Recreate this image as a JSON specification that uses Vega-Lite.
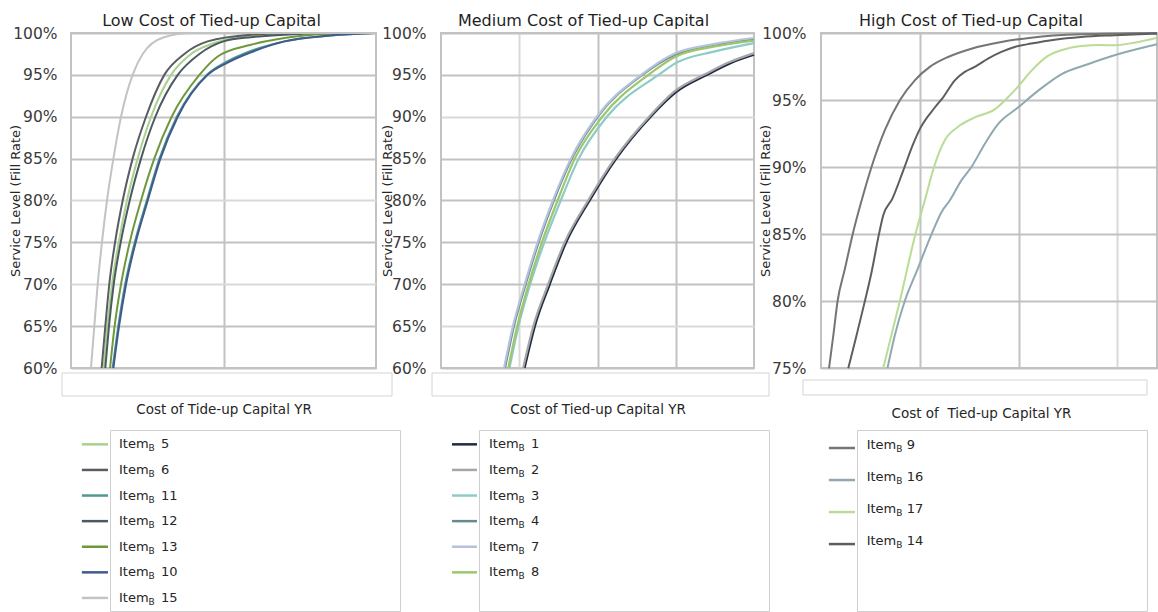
{
  "$schema": "https://vega.github.io/schema/vega-lite/v6.json",
  "background": "white",
  "padding": {"left": 8, "top": 12, "right": 0, "bottom": 0},
  "config": {
    "font": "DejaVu Sans",
    "view": {"stroke": "#c2c2c2", "strokeWidth": 2},
    "axis": {"gridColor": "#c2c2c2", "gridWidth": 2, "titleFontWeight": "normal", "titleColor": "#262626", "labelColor": "#3a3a3a"},
    "title": {"fontWeight": "normal", "color": "#1f1f1f"}
  },
  "datasets": {
    "p1": [
      {"item": "5", "cost": 0.214, "fill": 0.6}, {"item": "5", "cost": 0.238, "fill": 0.65}, {"item": "5", "cost": 0.269, "fill": 0.7}, {"item": "5", "cost": 0.313, "fill": 0.75}, {"item": "5", "cost": 0.367, "fill": 0.8}, {"item": "5", "cost": 0.437, "fill": 0.85}, {"item": "5", "cost": 0.525, "fill": 0.9}, {"item": "5", "cost": 0.656, "fill": 0.95}, {"item": "5", "cost": 0.787, "fill": 0.975}, {"item": "5", "cost": 0.94, "fill": 0.988}, {"item": "5", "cost": 1.18, "fill": 0.997}, {"item": "5", "cost": 1.6, "fill": 1.0}, {"item": "5", "cost": 2.0, "fill": 1.0},
      {"item": "6", "cost": 0.201, "fill": 0.6}, {"item": "6", "cost": 0.225, "fill": 0.65}, {"item": "6", "cost": 0.251, "fill": 0.7}, {"item": "6", "cost": 0.289, "fill": 0.75}, {"item": "6", "cost": 0.339, "fill": 0.8}, {"item": "6", "cost": 0.404, "fill": 0.85}, {"item": "6", "cost": 0.492, "fill": 0.9}, {"item": "6", "cost": 0.612, "fill": 0.95}, {"item": "6", "cost": 0.743, "fill": 0.975}, {"item": "6", "cost": 0.896, "fill": 0.99}, {"item": "6", "cost": 1.18, "fill": 0.998}, {"item": "6", "cost": 1.5, "fill": 1.0}, {"item": "6", "cost": 2.0, "fill": 1.0},
      {"item": "11", "cost": 0.273, "fill": 0.6}, {"item": "11", "cost": 0.31, "fill": 0.65}, {"item": "11", "cost": 0.355, "fill": 0.7}, {"item": "11", "cost": 0.418, "fill": 0.75}, {"item": "11", "cost": 0.497, "fill": 0.8}, {"item": "11", "cost": 0.58, "fill": 0.85}, {"item": "11", "cost": 0.694, "fill": 0.9}, {"item": "11", "cost": 0.89, "fill": 0.95}, {"item": "11", "cost": 1.024, "fill": 0.966}, {"item": "11", "cost": 1.17, "fill": 0.978}, {"item": "11", "cost": 1.4, "fill": 0.99}, {"item": "11", "cost": 1.7, "fill": 0.997}, {"item": "11", "cost": 2.0, "fill": 1.0},
      {"item": "12", "cost": 0.225, "fill": 0.6}, {"item": "12", "cost": 0.249, "fill": 0.65}, {"item": "12", "cost": 0.28, "fill": 0.7}, {"item": "12", "cost": 0.326, "fill": 0.75}, {"item": "12", "cost": 0.385, "fill": 0.8}, {"item": "12", "cost": 0.459, "fill": 0.85}, {"item": "12", "cost": 0.553, "fill": 0.9}, {"item": "12", "cost": 0.7, "fill": 0.95}, {"item": "12", "cost": 0.842, "fill": 0.975}, {"item": "12", "cost": 1.0, "fill": 0.99}, {"item": "12", "cost": 1.18, "fill": 0.995}, {"item": "12", "cost": 1.4, "fill": 0.998}, {"item": "12", "cost": 1.7, "fill": 1.0}, {"item": "12", "cost": 2.0, "fill": 1.0},
      {"item": "13", "cost": 0.256, "fill": 0.6}, {"item": "13", "cost": 0.286, "fill": 0.65}, {"item": "13", "cost": 0.328, "fill": 0.7}, {"item": "13", "cost": 0.385, "fill": 0.75}, {"item": "13", "cost": 0.459, "fill": 0.8}, {"item": "13", "cost": 0.546, "fill": 0.85}, {"item": "13", "cost": 0.66, "fill": 0.9}, {"item": "13", "cost": 0.842, "fill": 0.95}, {"item": "13", "cost": 0.962, "fill": 0.972}, {"item": "13", "cost": 1.18, "fill": 0.986}, {"item": "13", "cost": 1.4, "fill": 0.994}, {"item": "13", "cost": 1.7, "fill": 0.999}, {"item": "13", "cost": 2.0, "fill": 1.0},
      {"item": "10", "cost": 0.278, "fill": 0.6}, {"item": "10", "cost": 0.315, "fill": 0.65}, {"item": "10", "cost": 0.361, "fill": 0.7}, {"item": "10", "cost": 0.424, "fill": 0.75}, {"item": "10", "cost": 0.503, "fill": 0.8}, {"item": "10", "cost": 0.586, "fill": 0.85}, {"item": "10", "cost": 0.7, "fill": 0.9}, {"item": "10", "cost": 0.896, "fill": 0.95}, {"item": "10", "cost": 1.03, "fill": 0.965}, {"item": "10", "cost": 1.18, "fill": 0.977}, {"item": "10", "cost": 1.4, "fill": 0.99}, {"item": "10", "cost": 1.7, "fill": 0.997}, {"item": "10", "cost": 2.0, "fill": 1.0},
      {"item": "15", "cost": 0.131, "fill": 0.6}, {"item": "15", "cost": 0.153, "fill": 0.65}, {"item": "15", "cost": 0.175, "fill": 0.7}, {"item": "15", "cost": 0.203, "fill": 0.75}, {"item": "15", "cost": 0.236, "fill": 0.8}, {"item": "15", "cost": 0.278, "fill": 0.85}, {"item": "15", "cost": 0.328, "fill": 0.9}, {"item": "15", "cost": 0.404, "fill": 0.95}, {"item": "15", "cost": 0.47, "fill": 0.975}, {"item": "15", "cost": 0.61, "fill": 0.995}, {"item": "15", "cost": 0.79, "fill": 1.0}, {"item": "15", "cost": 2.0, "fill": 1.0}
    ],
    "p2": [
      {"item": "1", "cost": 1.068, "fill": 0.6}, {"item": "1", "cost": 1.2, "fill": 0.65}, {"item": "1", "cost": 1.39, "fill": 0.7}, {"item": "1", "cost": 1.6, "fill": 0.75}, {"item": "1", "cost": 1.9, "fill": 0.8}, {"item": "1", "cost": 2.24, "fill": 0.85}, {"item": "1", "cost": 2.68, "fill": 0.9}, {"item": "1", "cost": 3.0, "fill": 0.929}, {"item": "1", "cost": 3.4, "fill": 0.95}, {"item": "1", "cost": 3.7, "fill": 0.964}, {"item": "1", "cost": 4.0, "fill": 0.974},
      {"item": "2", "cost": 1.05, "fill": 0.6}, {"item": "2", "cost": 1.18, "fill": 0.65}, {"item": "2", "cost": 1.37, "fill": 0.7}, {"item": "2", "cost": 1.58, "fill": 0.75}, {"item": "2", "cost": 1.88, "fill": 0.8}, {"item": "2", "cost": 2.22, "fill": 0.85}, {"item": "2", "cost": 2.66, "fill": 0.9}, {"item": "2", "cost": 2.98, "fill": 0.93}, {"item": "2", "cost": 3.38, "fill": 0.951}, {"item": "2", "cost": 3.68, "fill": 0.965}, {"item": "2", "cost": 4.0, "fill": 0.976},
      {"item": "3", "cost": 0.875, "fill": 0.6}, {"item": "3", "cost": 0.99, "fill": 0.65}, {"item": "3", "cost": 1.14, "fill": 0.7}, {"item": "3", "cost": 1.32, "fill": 0.75}, {"item": "3", "cost": 1.53, "fill": 0.8}, {"item": "3", "cost": 1.76, "fill": 0.85}, {"item": "3", "cost": 2.12, "fill": 0.9}, {"item": "3", "cost": 2.78, "fill": 0.95}, {"item": "3", "cost": 3.0, "fill": 0.964}, {"item": "3", "cost": 3.5, "fill": 0.978}, {"item": "3", "cost": 4.0, "fill": 0.988},
      {"item": "4", "cost": 0.818, "fill": 0.6}, {"item": "4", "cost": 0.932, "fill": 0.65}, {"item": "4", "cost": 1.082, "fill": 0.7}, {"item": "4", "cost": 1.247, "fill": 0.75}, {"item": "4", "cost": 1.442, "fill": 0.8}, {"item": "4", "cost": 1.672, "fill": 0.85}, {"item": "4", "cost": 2.002, "fill": 0.9}, {"item": "4", "cost": 2.572, "fill": 0.95}, {"item": "4", "cost": 3.012, "fill": 0.975}, {"item": "4", "cost": 3.512, "fill": 0.986}, {"item": "4", "cost": 4.0, "fill": 0.993},
      {"item": "7", "cost": 0.806, "fill": 0.6}, {"item": "7", "cost": 0.92, "fill": 0.65}, {"item": "7", "cost": 1.07, "fill": 0.7}, {"item": "7", "cost": 1.235, "fill": 0.75}, {"item": "7", "cost": 1.43, "fill": 0.8}, {"item": "7", "cost": 1.66, "fill": 0.85}, {"item": "7", "cost": 1.99, "fill": 0.9}, {"item": "7", "cost": 2.56, "fill": 0.95}, {"item": "7", "cost": 3.0, "fill": 0.976}, {"item": "7", "cost": 3.5, "fill": 0.987}, {"item": "7", "cost": 4.0, "fill": 0.994},
      {"item": "8", "cost": 0.86, "fill": 0.6}, {"item": "8", "cost": 0.975, "fill": 0.65}, {"item": "8", "cost": 1.12, "fill": 0.7}, {"item": "8", "cost": 1.29, "fill": 0.75}, {"item": "8", "cost": 1.49, "fill": 0.8}, {"item": "8", "cost": 1.71, "fill": 0.85}, {"item": "8", "cost": 2.06, "fill": 0.9}, {"item": "8", "cost": 2.65, "fill": 0.95}, {"item": "8", "cost": 3.0, "fill": 0.972}, {"item": "8", "cost": 3.5, "fill": 0.984}, {"item": "8", "cost": 4.0, "fill": 0.991}
    ],
    "p3": [
      {"item": "9", "cost": 0.081, "fill": 0.7498}, {"item": "9", "cost": 0.125, "fill": 0.7745}, {"item": "9", "cost": 0.168, "fill": 0.8}, {"item": "9", "cost": 0.242, "fill": 0.824}, {"item": "9", "cost": 0.32, "fill": 0.8497}, {"item": "9", "cost": 0.411, "fill": 0.875}, {"item": "9", "cost": 0.512, "fill": 0.9002}, {"item": "9", "cost": 0.646, "fill": 0.9275}, {"item": "9", "cost": 0.798, "fill": 0.9498}, {"item": "9", "cost": 0.949, "fill": 0.9647}, {"item": "9", "cost": 1.101, "fill": 0.9747}, {"item": "9", "cost": 1.286, "fill": 0.9821}, {"item": "9", "cost": 1.522, "fill": 0.9883}, {"item": "9", "cost": 1.825, "fill": 0.9933}, {"item": "9", "cost": 2.128, "fill": 0.9965}, {"item": "9", "cost": 2.633, "fill": 0.999}, {"item": "9", "cost": 3.4, "fill": 1.0},
      {"item": "16", "cost": 0.673, "fill": 0.75}, {"item": "16", "cost": 0.747, "fill": 0.7745}, {"item": "16", "cost": 0.848, "fill": 0.8}, {"item": "16", "cost": 0.966, "fill": 0.8217}, {"item": "16", "cost": 1.118, "fill": 0.8497}, {"item": "16", "cost": 1.219, "fill": 0.8663}, {"item": "16", "cost": 1.303, "fill": 0.875}, {"item": "16", "cost": 1.421, "fill": 0.89}, {"item": "16", "cost": 1.522, "fill": 0.9}, {"item": "16", "cost": 1.657, "fill": 0.9172}, {"item": "16", "cost": 1.791, "fill": 0.932}, {"item": "16", "cost": 1.993, "fill": 0.9444}, {"item": "16", "cost": 2.195, "fill": 0.9568}, {"item": "16", "cost": 2.431, "fill": 0.9692}, {"item": "16", "cost": 2.7, "fill": 0.9767}, {"item": "16", "cost": 3.003, "fill": 0.9841}, {"item": "16", "cost": 3.4, "fill": 0.9916},
      {"item": "17", "cost": 0.63, "fill": 0.75}, {"item": "17", "cost": 0.798, "fill": 0.8}, {"item": "17", "cost": 0.956, "fill": 0.85}, {"item": "17", "cost": 1.05, "fill": 0.875}, {"item": "17", "cost": 1.152, "fill": 0.902}, {"item": "17", "cost": 1.253, "fill": 0.92}, {"item": "17", "cost": 1.387, "fill": 0.93}, {"item": "17", "cost": 1.556, "fill": 0.937}, {"item": "17", "cost": 1.758, "fill": 0.943}, {"item": "17", "cost": 1.892, "fill": 0.952}, {"item": "17", "cost": 2.0, "fill": 0.9606}, {"item": "17", "cost": 2.128, "fill": 0.9717}, {"item": "17", "cost": 2.296, "fill": 0.9829}, {"item": "17", "cost": 2.465, "fill": 0.9879}, {"item": "17", "cost": 2.633, "fill": 0.9903}, {"item": "17", "cost": 2.835, "fill": 0.9911}, {"item": "17", "cost": 2.97, "fill": 0.9908}, {"item": "17", "cost": 3.17, "fill": 0.9928}, {"item": "17", "cost": 3.4, "fill": 0.9965},
      {"item": "14", "cost": 0.276, "fill": 0.7498}, {"item": "14", "cost": 0.36, "fill": 0.7745}, {"item": "14", "cost": 0.444, "fill": 0.7999}, {"item": "14", "cost": 0.512, "fill": 0.8217}, {"item": "14", "cost": 0.586, "fill": 0.8497}, {"item": "14", "cost": 0.63, "fill": 0.864}, {"item": "14", "cost": 0.72, "fill": 0.876}, {"item": "14", "cost": 0.832, "fill": 0.8973}, {"item": "14", "cost": 0.933, "fill": 0.9172}, {"item": "14", "cost": 1.005, "fill": 0.929}, {"item": "14", "cost": 1.152, "fill": 0.9444}, {"item": "14", "cost": 1.236, "fill": 0.952}, {"item": "14", "cost": 1.354, "fill": 0.9647}, {"item": "14", "cost": 1.455, "fill": 0.971}, {"item": "14", "cost": 1.556, "fill": 0.9747}, {"item": "14", "cost": 1.69, "fill": 0.9809}, {"item": "14", "cost": 1.825, "fill": 0.9859}, {"item": "14", "cost": 1.96, "fill": 0.9896}, {"item": "14", "cost": 2.128, "fill": 0.9921}, {"item": "14", "cost": 2.364, "fill": 0.995}, {"item": "14", "cost": 2.633, "fill": 0.997}, {"item": "14", "cost": 2.97, "fill": 0.9983}, {"item": "14", "cost": 3.4, "fill": 0.9995}
    ],
    "leg1": [
      {"item": "5", "rank": 1}, {"item": "6", "rank": 2}, {"item": "11", "rank": 3}, {"item": "12", "rank": 4}, {"item": "13", "rank": 5}, {"item": "10", "rank": 6}, {"item": "15", "rank": 7}
    ],
    "leg2": [
      {"item": "1", "rank": 1}, {"item": "2", "rank": 2}, {"item": "3", "rank": 3}, {"item": "4", "rank": 4}, {"item": "7", "rank": 5}, {"item": "8", "rank": 6}
    ],
    "leg3": [
      {"item": "9", "rank": 1}, {"item": "16", "rank": 2}, {"item": "17", "rank": 3}, {"item": "14", "rank": 4}
    ]
  },
  "bounds": "full",
  "spacing": 0,
  "vconcat": [
    {
      "bounds": "flush",
      "spacing": 0,
      "hconcat": [
        {"width": 9, "height": 396, "view": {"stroke": null}, "data": {"values": []}, "mark": "rect"},
        {
          "bounds": "flush",
          "spacing": 65,
          "hconcat": [
            {
              "width": 305,
              "height": 335,
              "title": {"text": "Low Cost of Tied-up Capital", "anchor": "middle", "frame": "group", "dx": -12, "offset": -16, "baseline": "alphabetic", "fontSize": 16},
              "encoding": {
                "x": {"type": "quantitative", "scale": {"domain": [0, 2], "nice": false, "zero": false},
                      "axis": {"values": [1], "labels": false, "ticks": false, "domain": false, "title": "Cost of Tide-up Capital YR", "titleFontSize": 13.5, "titlePadding": 34}},
                "y": {"type": "quantitative", "scale": {"domain": [0.6, 1], "nice": false, "zero": false},
                      "axis": {"values": [0.6, 0.65, 0.7, 0.75, 0.8, 0.85, 0.9, 0.95, 1], "format": ".0%", "labelFontSize": 15.5, "labelPadding": 14, "ticks": false, "domain": false,
                               "gridColor": {"condition": {"test": "datum.value == 0.8 || datum.value == 0.7", "value": "#d9d9d9"}, "value": "#c2c2c2"},
                               "title": "Service Level (Fill Rate)", "titleFontSize": 13, "titleX": -56, "titleY": 167.5, "titleAngle": -90, "titleAlign": "center", "titleBaseline": "middle"}}
              },
              "layer": [
                {
                  "data": {"name": "p1"},
                  "mark": {"type": "line", "strokeWidth": 2, "interpolate": "monotone"},
                  "encoding": {
                    "x": {"field": "cost", "type": "quantitative"},
                    "y": {"field": "fill", "type": "quantitative"},
                    "color": {"field": "item", "type": "nominal", "legend": null,
                              "scale": {"domain": ["1","2","3","4","5","6","7","8","9","10","11","12","13","14","15","16","17"],
                                        "range": ["#1f2a44","#a6a6a6","#8ccbc6","#6b8892","#a9d18e","#595d63","#b4c3d9","#9dc76a","#757575","#3f5b8c","#4f9893","#4b5a60","#6f983d","#5e5e5e","#c3c3c3","#8fa8b2","#b9dc96"]}}
                  }
                },
                {
                  "data": {"values": [{}]},
                  "mark": {"type": "rect", "fill": null, "stroke": "#d4d4d4", "strokeWidth": 1},
                  "encoding": {"x": {"datum": -0.059}, "x2": {"datum": 2.105}, "y": {"datum": 0.59403}, "y2": {"datum": 0.56657}}
                }
              ]
            },
            {
              "bounds": "flush",
              "spacing": 67,
              "hconcat": [
                {
                  "width": 313,
                  "height": 335,
                  "title": {"text": "Medium Cost of Tied-up Capital", "anchor": "middle", "frame": "group", "dx": -14, "offset": -16, "baseline": "alphabetic", "fontSize": 16},
                  "encoding": {
                    "x": {"type": "quantitative", "scale": {"domain": [0, 4], "nice": false, "zero": false},
                          "axis": {"values": [1, 2, 3], "labels": false, "ticks": false, "domain": false,
                                   "gridColor": {"condition": {"test": "datum.value == 1", "value": "#d9d9d9"}, "value": "#c2c2c2"},
                                   "title": "Cost of Tied-up Capital YR", "titleFontSize": 13.5, "titlePadding": 34}},
                    "y": {"type": "quantitative", "scale": {"domain": [0.6, 1], "nice": false, "zero": false},
                          "axis": {"values": [0.6, 0.65, 0.7, 0.75, 0.8, 0.85, 0.9, 0.95, 1], "format": ".0%", "labelFontSize": 15.5, "labelPadding": 15, "ticks": false, "domain": false,
                                   "gridColor": {"condition": {"test": "datum.value == 0.9 || datum.value == 0.65", "value": "#d9d9d9"}, "value": "#c2c2c2"},
                                   "title": "Service Level (Fill Rate)", "titleFontSize": 13, "titleX": -54, "titleY": 167.5, "titleAngle": -90, "titleAlign": "center", "titleBaseline": "middle"}}
                  },
                  "layer": [
                    {
                      "data": {"name": "p2"},
                      "mark": {"type": "line", "strokeWidth": 2.2, "interpolate": "monotone"},
                      "encoding": {
                        "x": {"field": "cost", "type": "quantitative"},
                        "y": {"field": "fill", "type": "quantitative"},
                        "color": {"field": "item", "type": "nominal", "legend": null,
                                  "scale": {"domain": ["1","2","3","4","5","6","7","8","9","10","11","12","13","14","15","16","17"],
                                            "range": ["#1f2a44","#a6a6a6","#8ccbc6","#6b8892","#a9d18e","#595d63","#b4c3d9","#9dc76a","#757575","#3f5b8c","#4f9893","#4b5a60","#6f983d","#5e5e5e","#c3c3c3","#8fa8b2","#b9dc96"]}}
                      }
                    },
                    {
                      "data": {"values": [{}]},
                      "mark": {"type": "rect", "fill": null, "stroke": "#d4d4d4", "strokeWidth": 1},
                      "encoding": {"x": {"datum": -0.115}, "x2": {"datum": 4.192}, "y": {"datum": 0.59403}, "y2": {"datum": 0.56657}}
                    }
                  ]
                },
                {
                  "width": 336,
                  "height": 335,
                  "title": {"text": "High Cost of Tied-up Capital", "anchor": "middle", "frame": "group", "dx": -18, "offset": -16, "baseline": "alphabetic", "fontSize": 16},
                  "encoding": {
                    "x": {"type": "quantitative", "scale": {"domain": [0, 3.4], "nice": false, "zero": false},
                          "axis": {"values": [1, 2, 3], "labels": false, "ticks": false, "domain": false,
                                   "gridColor": {"condition": {"test": "datum.value == 3", "value": "#d9d9d9"}, "value": "#c2c2c2"},
                                   "title": "Cost of\u00a0 Tied-up Capital YR", "titleFontSize": 13.5, "titlePadding": 38, "titleX": 160}},
                    "y": {"type": "quantitative", "scale": {"domain": [0.75, 1], "nice": false, "zero": false},
                          "axis": {"values": [0.75, 0.8, 0.85, 0.9, 0.95, 1], "format": ".0%", "labelFontSize": 15.5, "labelPadding": 15, "ticks": false, "domain": false,
                                   "title": "Service Level (Fill Rate)", "titleFontSize": 13, "titleX": -56, "titleY": 167.5, "titleAngle": -90, "titleAlign": "center", "titleBaseline": "middle"}}
                  },
                  "layer": [
                    {
                      "data": {"name": "p3"},
                      "mark": {"type": "line", "strokeWidth": 2, "interpolate": "monotone"},
                      "encoding": {
                        "x": {"field": "cost", "type": "quantitative"},
                        "y": {"field": "fill", "type": "quantitative"},
                        "color": {"field": "item", "type": "nominal", "legend": null,
                                  "scale": {"domain": ["1","2","3","4","5","6","7","8","9","10","11","12","13","14","15","16","17"],
                                            "range": ["#1f2a44","#a6a6a6","#8ccbc6","#6b8892","#a9d18e","#595d63","#b4c3d9","#9dc76a","#757575","#3f5b8c","#4f9893","#4b5a60","#6f983d","#5e5e5e","#c3c3c3","#8fa8b2","#b9dc96"]}}
                      }
                    },
                    {
                      "data": {"values": [{}]},
                      "mark": {"type": "rect", "fill": null, "stroke": "#d4d4d4", "strokeWidth": 1},
                      "encoding": {"x": {"datum": -0.182}, "x2": {"datum": 3.299}, "y": {"datum": 0.741045}, "y2": {"datum": 0.729851}}
                    }
                  ]
                }
              ]
            }
          ]
        }
      ]
    },
    {
      "bounds": "flush",
      "spacing": 0,
      "hconcat": [
        {"width": 48, "height": 1, "view": {"stroke": null}, "data": {"values": []}, "mark": "rect"},
        {
          "bounds": "flush",
          "spacing": 79,
          "hconcat": [
            {
              "width": 290,
              "height": 181,
              "view": {"stroke": "#cfcfcf", "strokeWidth": 1},
              "data": {"name": "leg1"},
              "encoding": {"y": {"field": "rank", "type": "quantitative", "scale": {"domain": [0.44, 7.51], "reverse": true, "nice": false, "zero": false}, "axis": null}},
              "layer": [
                {"mark": {"type": "rule", "strokeWidth": 2.5},
                 "encoding": {"x": {"datum": -0.97, "type": "quantitative", "scale": {"domain": [0, 10], "nice": false}, "axis": null}, "x2": {"datum": -0.07},
                              "color": {"field": "item", "type": "nominal", "legend": null,
                                        "scale": {"domain": ["1","2","3","4","5","6","7","8","9","10","11","12","13","14","15","16","17"],
                                                  "range": ["#1f2a44","#a6a6a6","#8ccbc6","#6b8892","#a9d18e","#595d63","#b4c3d9","#9dc76a","#757575","#3f5b8c","#4f9893","#4b5a60","#6f983d","#5e5e5e","#c3c3c3","#8fa8b2","#b9dc96"]}}}},
                {"mark": {"type": "text", "align": "left", "baseline": "middle", "fontSize": 13, "color": "#262626"},
                 "encoding": {"x": {"datum": 0.31, "type": "quantitative"}, "text": {"value": "Item"}}},
                {"mark": {"type": "text", "align": "left", "baseline": "middle", "fontSize": 9, "dx": 29.5, "dy": 4, "color": "#262626"},
                 "encoding": {"x": {"datum": 0.31, "type": "quantitative"}, "text": {"value": "B"}}},
                {"mark": {"type": "text", "align": "left", "baseline": "middle", "fontSize": 13, "dx": 42, "color": "#262626"},
                 "encoding": {"x": {"datum": 0.31, "type": "quantitative"}, "text": {"field": "item"}}}
              ]
            },
            {
              "bounds": "flush",
              "spacing": 88,
              "hconcat": [
                {
                  "width": 290,
                  "height": 181,
                  "view": {"stroke": "#cfcfcf", "strokeWidth": 1},
                  "data": {"name": "leg2"},
                  "encoding": {"y": {"field": "rank", "type": "quantitative", "scale": {"domain": [0.44, 7.51], "reverse": true, "nice": false, "zero": false}, "axis": null}},
                  "layer": [
                    {"mark": {"type": "rule", "strokeWidth": 2.5},
                     "encoding": {"x": {"datum": -0.93, "type": "quantitative", "scale": {"domain": [0, 10], "nice": false}, "axis": null}, "x2": {"datum": -0.07},
                                  "color": {"field": "item", "type": "nominal", "legend": null,
                                            "scale": {"domain": ["1","2","3","4","5","6","7","8","9","10","11","12","13","14","15","16","17"],
                                                      "range": ["#1f2a44","#a6a6a6","#8ccbc6","#6b8892","#a9d18e","#595d63","#b4c3d9","#9dc76a","#757575","#3f5b8c","#4f9893","#4b5a60","#6f983d","#5e5e5e","#c3c3c3","#8fa8b2","#b9dc96"]}}}},
                    {"mark": {"type": "text", "align": "left", "baseline": "middle", "fontSize": 13, "color": "#262626"},
                     "encoding": {"x": {"datum": 0.345, "type": "quantitative"}, "text": {"value": "Item"}}},
                    {"mark": {"type": "text", "align": "left", "baseline": "middle", "fontSize": 9, "dx": 29.5, "dy": 4, "color": "#262626"},
                     "encoding": {"x": {"datum": 0.345, "type": "quantitative"}, "text": {"value": "B"}}},
                    {"mark": {"type": "text", "align": "left", "baseline": "middle", "fontSize": 13, "dx": 42, "color": "#262626"},
                     "encoding": {"x": {"datum": 0.345, "type": "quantitative"}, "text": {"field": "item"}}}
                  ]
                },
                {
                  "width": 290,
                  "height": 181,
                  "view": {"stroke": "#cfcfcf", "strokeWidth": 1},
                  "data": {"name": "leg3"},
                  "encoding": {"y": {"field": "rank", "type": "quantitative", "scale": {"domain": [0.4375, 6.09], "reverse": true, "nice": false, "zero": false}, "axis": null}},
                  "layer": [
                    {"mark": {"type": "rule", "strokeWidth": 2.5},
                     "encoding": {"x": {"datum": -0.97, "type": "quantitative", "scale": {"domain": [0, 10], "nice": false}, "axis": null}, "x2": {"datum": -0.07},
                                  "color": {"field": "item", "type": "nominal", "legend": null,
                                            "scale": {"domain": ["1","2","3","4","5","6","7","8","9","10","11","12","13","14","15","16","17"],
                                                      "range": ["#1f2a44","#a6a6a6","#8ccbc6","#6b8892","#a9d18e","#595d63","#b4c3d9","#9dc76a","#757575","#3f5b8c","#4f9893","#4b5a60","#6f983d","#5e5e5e","#c3c3c3","#8fa8b2","#b9dc96"]}}}},
                    {"mark": {"type": "text", "align": "left", "baseline": "middle", "fontSize": 13, "dy": -3, "color": "#262626"},
                     "encoding": {"x": {"datum": 0.334, "type": "quantitative"}, "text": {"value": "Item"}}},
                    {"mark": {"type": "text", "align": "left", "baseline": "middle", "fontSize": 9, "dx": 29.5, "dy": 1, "color": "#262626"},
                     "encoding": {"x": {"datum": 0.334, "type": "quantitative"}, "text": {"value": "B"}}},
                    {"mark": {"type": "text", "align": "left", "baseline": "middle", "fontSize": 13, "dx": 40, "dy": -3, "color": "#262626"},
                     "encoding": {"x": {"datum": 0.334, "type": "quantitative"}, "text": {"field": "item"}}}
                  ]
                }
              ]
            }
          ]
        }
      ]
    }
  ]
}
